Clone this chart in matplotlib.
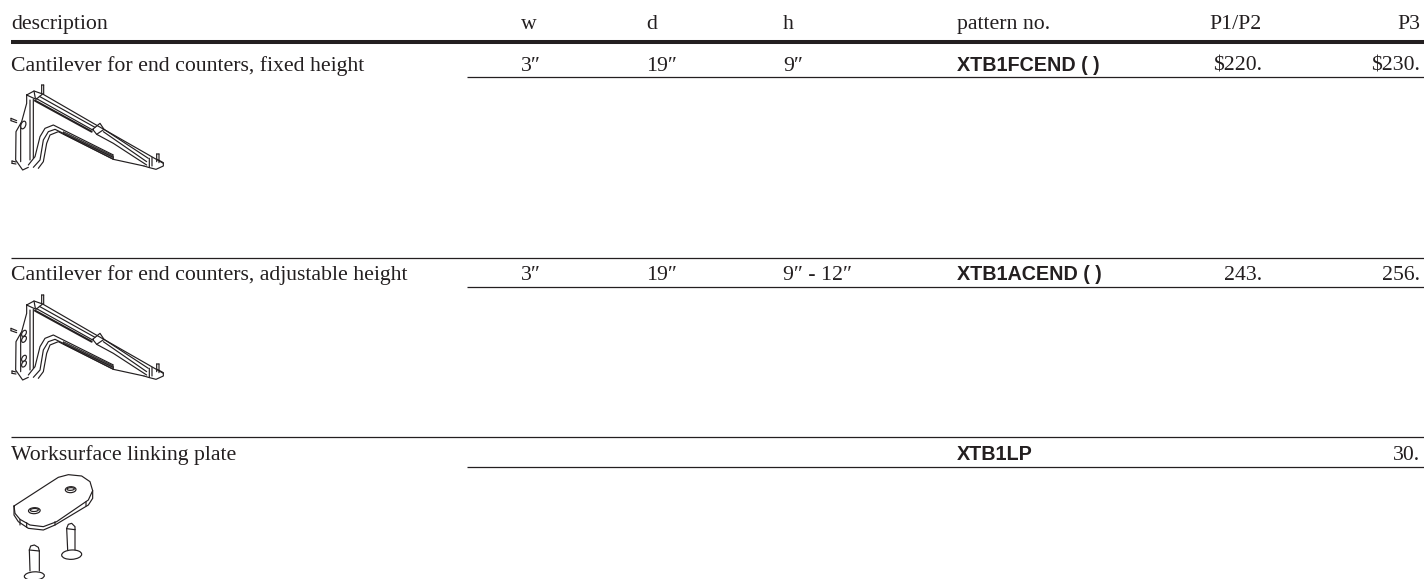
import matplotlib
matplotlib.use("Agg")
import matplotlib.pyplot as plt
from matplotlib.patches import Ellipse, Polygon
import numpy as np

W, H = 1424, 579
INK = "#231f20"

headers = ["description", "w", "d", "h", "pattern no.", "P1/P2", "P3"]
descriptions = ["Cantilever for end counters, fixed height",
                "Cantilever for end counters, adjustable height",
                "Worksurface linking plate"]
widths = ["3\u2033", "3\u2033", ""]
depths = ["19\u2033", "19\u2033", ""]
heights = ["9\u2033", "9\u2033 - 12\u2033", ""]
patterns = ["XTB1FCEND ( )", "XTB1ACEND ( )", "XTB1LP"]
price_p12 = ["$220.", "243.", ""]
price_p3 = ["$230.", "256.", "30."]

# left edge of the columns, right edge for the two price columns
col_x = [11, 521, 646, 783, 957, 1262, 1420]
row_text_y = [71, 280, 460]
row_top_y = [42, 258, 437]
row_under_y = [77, 287, 467]

# line art traced at 3x, scaled down when drawn
bracket_lines = [
    [(80, 45), (102, 33), (128, 42), (108, 58), (80, 45)],
    [(102, 33), (106, 55)],
    [(80, 45), (80, 70), (65, 125), (48, 155), (47, 240), (68, 270), (85, 262)],
    [(62, 130), (62, 245)],
    [(90, 60), (90, 240)], [(100, 58), (100, 235)],
    [(125, 15), (125, 40)], [(131, 15), (131, 42)], [(125, 15), (131, 15)],
    [(33, 115), (50, 122)], [(33, 122), (50, 128)], [(33, 115), (33, 122)],
    [(36, 243), (48, 246)], [(36, 250), (48, 252)], [(36, 243), (36, 250)],
    [(128, 42), (280, 130), (490, 250)],
    [(118, 49), (285, 142)],
    [(108, 55), (278, 150)],
    [(312, 148), (445, 235)],
    [(310, 155), (440, 245)],
    [(278, 148), (300, 130), (312, 148), (290, 163), (278, 148)],
    [(432, 258), (445, 262), (468, 268), (490, 258), (490, 248), (472, 238)],
    [(470, 222), (470, 245)], [(477, 222), (477, 248)], [(470, 222), (477, 222)],
    [(448, 235), (448, 262)], [(456, 232), (456, 258)],
    [(85, 255), (105, 230), (120, 170), (135, 145), (160, 135), (180, 145), (340, 225)],
    [(100, 262), (120, 240), (130, 180), (145, 155), (165, 148), (340, 232)],
    [(115, 265), (130, 245), (140, 190), (150, 165), (175, 155), (340, 238)],
    [(340, 238), (432, 258)],
    [(290, 163), (340, 190), (440, 255)],
]
bracket_thick = [[(105, 62), (275, 155)]]
bracket_wedge = [(190, 155), (340, 228), (340, 238), (190, 162)]
hole_fixed = [(70, 135, 14, 24)]
holes_adjustable = [(72, 130, 12, 20), (72, 148, 12, 20), (72, 205, 12, 20), (72, 222, 12, 20)]

plate_lines = [
    [(42, 108), (150, 38), (175, 22), (205, 14), (245, 18), (270, 35), (278, 62), (265, 90),
     (170, 155), (130, 170), (90, 165), (60, 148), (45, 130), (42, 108)],
    [(42, 108), (42, 135), (55, 155), (85, 175), (130, 180), (165, 165), (265, 105), (278, 85), (278, 62)],
    [(60, 148), (60, 165)], [(80, 158), (80, 172)], [(165, 155), (165, 165)], [(258, 95), (258, 108)],
    [(200, 175), (205, 163), (215, 160), (225, 170), (225, 178)],
    [(200, 176), (225, 179)],
    [(200, 175), (203, 240)], [(225, 178), (225, 240)],
    [(88, 240), (92, 228), (103, 225), (115, 232), (118, 243)],
    [(88, 240), (118, 243)],
    [(88, 240), (90, 303)], [(118, 243), (118, 303)],
]
plate_ellipses = [(103, 122, 35, 18), (103, 120, 24, 9), (212, 59, 32, 18), (212, 57, 22, 8),
                  (215, 254, 60, 28), (103, 318, 60, 25)]

bracket_origin = [(0, 80), (0, 290)]
plate_origin = (0, 470)
S = 1 / 3


def draw_lines(ax, lines, origin, lw=0.85):
    for pts in lines:
        pts = np.array(pts, dtype=float) * S
        ax.plot(pts[:, 0] + origin[0], pts[:, 1] + origin[1], color=INK, lw=lw,
                solid_joinstyle="round", solid_capstyle="round", snap=False)


def draw_ellipses(ax, items, origin, angle=0):
    for x, y, w, h in items:
        ax.add_patch(Ellipse((x * S + origin[0], y * S + origin[1]), w * S, h * S, angle=angle,
                             facecolor="white", edgecolor=INK, lw=0.85, zorder=3))


fig = plt.figure(figsize=(W / 100, H / 100), dpi=100, facecolor="white")
ax = fig.add_axes([0, 0, 1, 1])
ax.set_xlim(0, W)
ax.set_ylim(H, 0)
ax.axis("off")

serif = dict(family="Liberation Serif", fontsize=15.7, color=INK, va="baseline")
bold = dict(family="Liberation Sans", fontsize=14.2, weight="bold", color=INK, va="baseline")

# header row
for i, label in enumerate(headers):
    ha = "right" if i >= 5 else "left"
    ax.text(col_x[i], 29, label, ha=ha, **serif)
ax.plot([11, W], [42, 42], color=INK, lw=2.9, solid_capstyle="butt")

# table rows
for r in range(3):
    if r > 0:
        ax.plot([11, W], [row_top_y[r]] * 2, color=INK, lw=0.9, solid_capstyle="butt")
    ax.plot([467, W], [row_under_y[r]] * 2, color=INK, lw=0.9, solid_capstyle="butt")
    y = row_text_y[r]
    ax.text(col_x[0], y, descriptions[r], ha="left", **serif)
    ax.text(col_x[1], y, widths[r], ha="left", **serif)
    ax.text(col_x[2], y, depths[r], ha="left", **serif)
    ax.text(col_x[3], y, heights[r], ha="left", **serif)
    ax.text(col_x[4], y, patterns[r], ha="left", **bold)
    ax.text(col_x[5], y, price_p12[r], ha="right", **serif)
    ax.text(col_x[6], y, price_p3[r], ha="right", **serif)

# drawings under the descriptions
for origin in bracket_origin:
    draw_lines(ax, bracket_lines, origin)
    draw_lines(ax, bracket_thick, origin, lw=1.5)
    wedge = np.array(bracket_wedge, dtype=float) * S + origin
    ax.add_patch(Polygon(wedge, closed=True, facecolor="#777777", edgecolor=INK, lw=0.6))
draw_ellipses(ax, hole_fixed, bracket_origin[0], angle=20)
draw_ellipses(ax, holes_adjustable, bracket_origin[1], angle=30)
draw_lines(ax, plate_lines, plate_origin)
draw_ellipses(ax, plate_ellipses, plate_origin, angle=-3)

fig.savefig("out.png", dpi=100)
